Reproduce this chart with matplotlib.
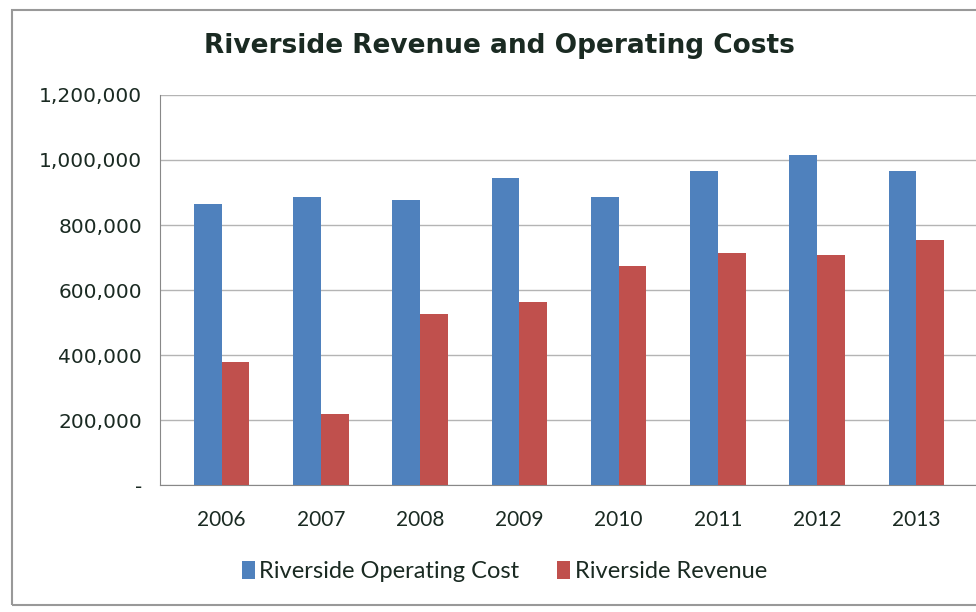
import matplotlib.pyplot as plt
import numpy as np
from matplotlib.patches import Rectangle
from matplotlib.ticker import FuncFormatter

years = ["2006", "2007", "2008", "2009", "2010", "2011", "2012", "2013"]
operating_cost = [864000, 886000, 877000, 945000, 886000, 966000, 1015000, 966000]
revenue = [378000, 218000, 526000, 563000, 674000, 714000, 708000, 754000]

blue = "#4F81BD"
red = "#C0504D"

fig = plt.figure(figsize=(9.76, 6.12), dpi=100)
ax = fig.add_axes([0.164, 0.207, 0.836, 0.638])

x = np.arange(len(years))
w = 0.28
ax.bar(x - w / 2, operating_cost, w, color=blue, label="Riverside Operating Cost", zorder=3)
ax.bar(x + w / 2, revenue, w, color=red, label="Riverside Revenue", zorder=3)

ax.set_xlim(-0.62, 7.6)
ax.set_ylim(0, 1200000)
ax.set_yticks(np.arange(0, 1200001, 200000))
ax.yaxis.set_major_formatter(
    FuncFormatter(lambda v, p: "-" if v == 0 else f"{int(v):,}")
)
ax.grid(axis="y", color="#b4b4b4", linewidth=1, zorder=0)
ax.set_xticks(x)
ax.set_xticklabels(years, fontsize=15, family="Lato")
ax.tick_params(axis="y", labelsize=14.5, colors="#1a2a22", length=0, pad=13)
ax.tick_params(axis="x", length=0, pad=18, colors="#1a2a22")
for s in ["top", "right"]:
    ax.spines[s].set_visible(False)
ax.spines["left"].set_color("#888888")
ax.spines["bottom"].set_color("#888888")

fig.text(0.512, 0.925, "Riverside Revenue and Operating Costs", ha="center",
         va="center", fontsize=19, fontweight="bold", color="#1a2a22")

leg = ax.legend(loc="upper center", bbox_to_anchor=(0.422, -0.14), ncol=2,
                frameon=False, prop={"family": "Lato", "size": 17},
                handlelength=0.55, handleheight=0.8, handletextpad=0.2,
                columnspacing=1.6)
for t in leg.get_texts():
    t.set_color("#1a2a22")

fig.patches.append(Rectangle((0.012, 0.012), 0.99, 0.972, transform=fig.transFigure,
                             fill=False, edgecolor="#999999", linewidth=1.5))

fig.savefig("out.png", dpi=100)
